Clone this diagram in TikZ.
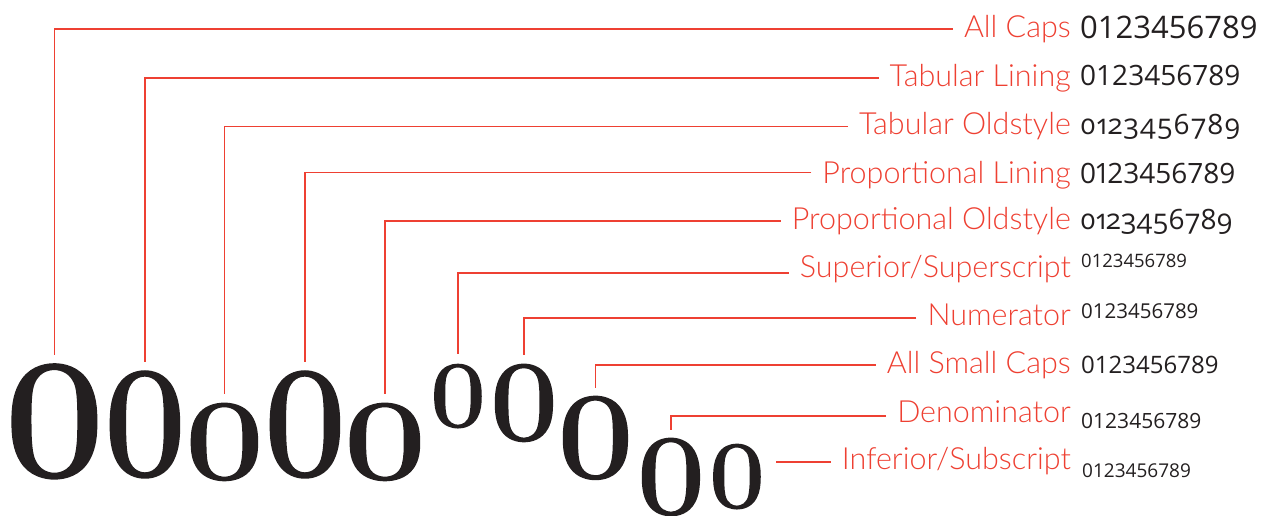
\documentclass[tikz,border=0pt]{standalone}
\usepackage{fontspec}
\usepackage{graphicx}
\newfontfamily\lblfont{Lato Light}
\newfontfamily\zerofont{lmroman10-regular}[Extension=.otf,FakeBold=2]
\newfontfamily\digfont{Open Sans}[Numbers={Lining,Monospaced}]
\newfontfamily\propdig{Open Sans}[Numbers={Lining,Proportional}]
\newfontfamily\olddig{Open Sans}[Numbers={OldStyle,Proportional},LetterSpace=3]
\newfontfamily\oldpropdig{Open Sans}[Numbers={OldStyle,Proportional}]
\definecolor{lblred}{RGB}{238,64,50}
\definecolor{inkdark}{RGB}{35,31,32}
\begin{document}
\begin{tikzpicture}[x=1pt,y=-1pt,
  lbl/.style={anchor=base east, inner sep=0pt, text=lblred, font=\lblfont\fontsize{30.5}{31}\selectfont},
  dig/.style={anchor=base west, inner sep=0pt, text=inkdark},
  zero/.style={anchor=south, inner sep=0pt, text=inkdark, font=\zerofont},
  lead/.style={draw=lblred, line width=1.3pt}]
\useasboundingbox (0,0) rectangle (1261,515);
% big zeros
\node[zero] (z1)  at (54.5,478.2) {\resizebox{97.5pt}{109.5pt}{0}};
\node[zero] (z2)  at (145,477.4)  {\resizebox{80pt}{102pt}{0}};
\node[zero] (z3)  at (224.5,480.4){\resizebox{76.5pt}{74pt}{0}};
\node[zero] (z4)  at (305,477.4)  {\resizebox{80pt}{102pt}{0}};
\node[zero] (z5)  at (385,480.4)  {\resizebox{80pt}{74pt}{0}};
\node[zero] (z6)  at (458,427.8)  {\resizebox{54pt}{61pt}{0}};
\node[zero] (z7)  at (524,441.4)  {\resizebox{66pt}{74pt}{0}};
\node[zero] (z8)  at (595.5,479.2){\resizebox{74pt}{79.5pt}{0}};
\node[zero] (z9)  at (671,515.4)  {\resizebox{66pt}{74pt}{0}};
\node[zero] (z10) at (737,508.8)  {\resizebox{54pt}{62pt}{0}};
% labels
\node[lbl] (l1)  at (1071,37)  {All Caps};
\node[lbl] (l2)  at (1071,86)  {Tabular Lining};
\node[lbl] (l3)  at (1071,134) {Tabular Oldstyle};
\node[lbl] (l4)  at (1071,183) {Proportional Lining};
\node[lbl] (l5)  at (1071,229) {Proportional Oldstyle};
\node[lbl] (l6)  at (1071,277) {Superior/Superscript};
\node[lbl] (l7)  at (1071,325) {Numerator};
\node[lbl] (l8)  at (1071,373) {All Small Caps};
\node[lbl] (l9)  at (1071,422) {Denominator};
\node[lbl] (l10) at (1071,469) {Inferior/Subscript};
% digit samples
\node[dig, font=\digfont\fontsize{31}{32}\selectfont]     (d1)  at (1080,38)  {0123456789};
\node[dig, font=\digfont\fontsize{28}{28}\selectfont]     (d2)  at (1080,85)  {0123456789};
\node[dig, font=\olddig\fontsize{28}{28}\selectfont]      (d3)  at (1080,134) {0123456789};
\node[dig, font=\propdig\fontsize{28}{28}\selectfont]     (d4)  at (1080,183) {0123456789};
\node[dig, font=\oldpropdig\fontsize{28}{28}\selectfont]  (d5)  at (1080,229) {0123456789};
\node[dig, font=\digfont\fontsize{18.5}{19}\selectfont]   (d6)  at (1081,267) {0123456789};
\node[dig, font=\digfont\fontsize{20.5}{21}\selectfont]   (d7)  at (1081,318) {0123456789};
\node[dig, font=\digfont\fontsize{24}{24}\selectfont]     (d8)  at (1081,373) {0123456789};
\node[dig, font=\digfont\fontsize{21}{21}\selectfont]     (d9)  at (1081,428) {0123456789};
\node[dig, font=\digfont\fontsize{19}{19}\selectfont]     (d10) at (1082,477) {0123456789};
% leaders
\draw[lead] ([xshift=-11pt,yshift=8pt]l1.base west) -| ([yshift=10pt]z1.north);
\draw[lead] ([xshift=-11pt,yshift=8pt]l2.base west) -| ([yshift=10pt]z2.north);
\draw[lead] ([xshift=-11pt,yshift=7.5pt]l3.base west) -| ([yshift=10pt]z3.north);
\draw[lead] ([xshift=-11pt,yshift=10.5pt]l4.base west) -| ([yshift=10pt]z4.north);
\draw[lead] ([xshift=-11pt,yshift=8pt]l5.base west) -| ([yshift=10pt]z5.north);
\draw[lead] ([xshift=-11pt,yshift=4pt]l6.base west) -| ([yshift=10pt]z6.north);
\draw[lead] ([xshift=-11pt,yshift=7pt]l7.base west) -| ([yshift=10pt]z7.north);
\draw[lead] ([xshift=-11pt,yshift=8pt]l8.base west) -| ([yshift=9pt]z8.north);
\draw[lead] ([xshift=-11pt,yshift=6pt]l9.base west) -| ([yshift=9pt]z9.north);
\coordinate (s10) at ([xshift=-11pt,yshift=7pt]l10.base west);
\draw[lead] (s10) -- ([xshift=12pt]z10.east |- s10);
\end{tikzpicture}
\end{document}
